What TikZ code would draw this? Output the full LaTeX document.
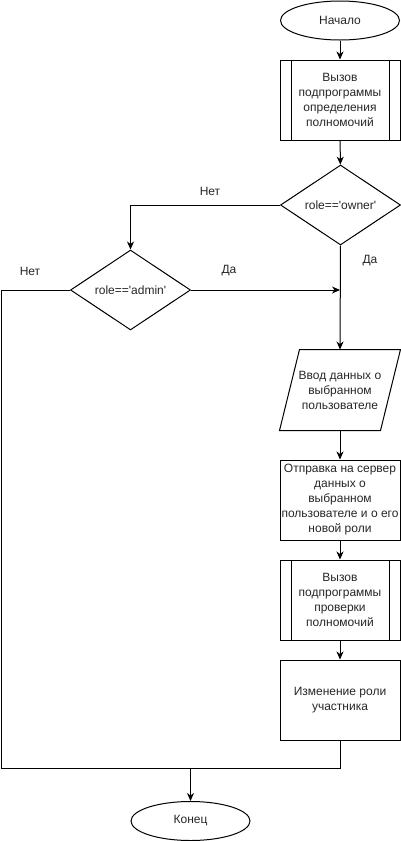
\documentclass[tikz,border=0pt]{standalone}
\usepackage{fontspec}
\setmainfont{Liberation Sans}
\usetikzlibrary{shapes.geometric,arrows.meta,calc}
\begin{document}
\begin{tikzpicture}[x=1pt,y=-1pt,line width=1pt,
  every node/.style={font=\fontsize{12}{15}\selectfont, text=black!85},
  arr/.style={-{Stealth[length=8pt,width=7pt,inset=2.5pt]}},
  term/.style={ellipse,draw,minimum width=119pt,minimum height=39pt,inner sep=0pt},
  procbox/.style={rectangle,draw,minimum width=120pt,minimum height=80pt,inner sep=0pt,align=center},
  subbox/.style={rectangle,draw,minimum width=120pt,minimum height=80pt,inner sep=0pt,align=center},
  decbox/.style={diamond,draw,minimum width=120pt,minimum height=80pt,inner sep=0pt,aspect=1.5},
  iobox/.style={rectangle,minimum width=100pt,minimum height=80pt,inner sep=0pt,align=center},
  lbl/.style={inner sep=0pt}]
\useasboundingbox (0,0) rectangle (401,841);

\node[term] (start) at (340,20.5) {Начало};
\node[subbox] (sub1) at (340,100) {Вызов\\подпрограммы\\определения\\полномочий};
\node[decbox] (owner) at (340.5,205) {role==\textquotesingle owner\textquotesingle};
\node[decbox] (admin) at (130.5,290) {role==\textquotesingle admin\textquotesingle};
\node[iobox] (par) at (340,390) {Ввод данных о\\выбранном\\пользователе};
\node[procbox] (send) at (340,500) {Отправка на сервер\\данных о\\выбранном\\пользователе и о его\\новой роли};
\node[subbox] (sub2) at (340,600) {Вызов\\подпрограммы\\проверки\\полномочий};
\node[procbox] (chg) at (340,700) {Изменение роли\\участника};
\node[term] (end) at (190.5,821) {Конец};

% subprocess inner lines
\foreach \n in {sub1,sub2}{
  \draw ([xshift=12pt]\n.north west) -- ([xshift=12pt]\n.south west);
  \draw ([xshift=-11pt]\n.north east) -- ([xshift=-11pt]\n.south east);
}
% parallelogram
\draw ([xshift=10pt]par.north west) -- ([xshift=10pt]par.north east)
  -- ([xshift=-10pt]par.south east) -- ([xshift=-10pt]par.south west) -- cycle;

% labels
\node[lbl] (l1) at (210,191) {Нет};
\node[lbl] (l2) at (370,261) {Да};
\node[lbl] (l3) at (229,271) {Да};
\node[lbl] (l4) at (30,271) {Нет};

% coordinates
\coordinate (j1) at (340,290);
\coordinate (cl) at (1,290);
\coordinate (cb) at (1,768.5);
\coordinate (j2) at (190.5,768.5);

% connectors
\draw[arr] (start) -- (sub1);
\draw[arr] (sub1) -- (owner);
\draw[arr] (owner.west) -| (admin.north);
\draw[arr] (owner.south) -- (par.north);
\draw[arr] (admin.east) -- (j1);
\draw[arr] (par.south) -- (send.north);
\draw[arr] (send.south) -- (sub2.north);
\draw[arr] (sub2.south) -- (chg.north);
\draw (admin.west) -- (cl) -- (cb) -- (j2);
\draw (chg.south) |- (j2);
\draw[arr] (j2) -- (end.north);
\end{tikzpicture}
\end{document}
